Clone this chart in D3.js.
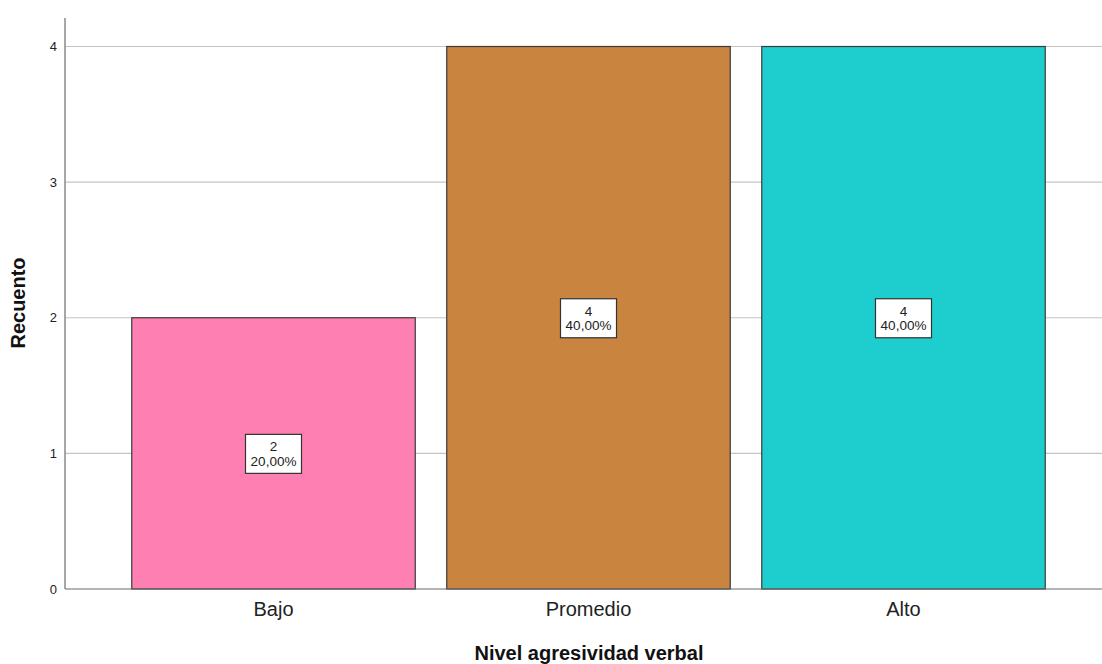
<!DOCTYPE html>
<html>
<head>
<meta charset="utf-8">
<script src="https://cdn.jsdelivr.net/npm/d3@7"></script>
<style>
  body { margin: 0; background: #fff; }
  svg { display: block; font-family: "Liberation Sans", Arial, sans-serif; }
</style>
</head>
<body>
<svg width="1102" height="664"></svg>
<script>
// data
var categories = ["Bajo", "Promedio", "Alto"];
var counts = [2, 4, 4];
var percents = ["20,00%", "40,00%", "40,00%"];
var colors = ["#fe80b3", "#c9843f", "#1ecdcd"];
var yTicks = [0, 1, 2, 3, 4];

var svg = d3.select("svg");
var plotLeft = 65, plotRight = 1102, plotTop = 18, plotBottom = 589;

var x = d3.scaleBand()
  .domain(categories)
  .range([116, 1061])
  .paddingInner(0.1)
  .paddingOuter(0.05);

var y = d3.scaleLinear()
  .domain([0, 4])
  .range([plotBottom, 46.5]);

/* gridlines */
svg.append("g")
  .selectAll("line")
  .data(yTicks.filter(function(d) { return d > 0; }))
  .enter()
  .append("line")
  .attr("x1", plotLeft)
  .attr("x2", plotRight)
  .attr("y1", function(d) { return y(d); })
  .attr("y2", function(d) { return y(d); })
  .attr("stroke", "#c4c4c4")
  .attr("stroke-width", 1.2);

/* bars */
svg.append("g")
  .selectAll("rect")
  .data(categories)
  .enter()
  .append("rect")
  .attr("x", function(d) { return x(d); })
  .attr("y", function(d, i) { return y(counts[i]); })
  .attr("width", x.bandwidth())
  .attr("height", function(d, i) { return y(0) - y(counts[i]); })
  .attr("fill", function(d, i) { return colors[i]; })
  .attr("stroke", "#3a3a3a")
  .attr("stroke-width", 1.2);

/* y axis */
var yAxis = svg.append("g")
  .attr("transform", "translate(" + plotLeft + ",0)")
  .call(d3.axisLeft(y).tickValues(yTicks).tickFormat(d3.format("d")).tickSize(0).tickPadding(8));
yAxis.select(".domain").remove();
yAxis.selectAll("text").attr("font-size", 13).attr("fill", "#222");
svg.append("line")
  .attr("x1", plotLeft).attr("x2", plotLeft)
  .attr("y1", plotTop).attr("y2", plotBottom)
  .attr("stroke", "#8a8a8a")
  .attr("stroke-width", 1.5);

/* x axis */
var xAxis = svg.append("g")
  .attr("transform", "translate(0," + plotBottom + ")")
  .call(d3.axisBottom(x).tickSize(0).tickPadding(13));
xAxis.select(".domain").remove();
xAxis.selectAll("text").attr("font-size", 20).attr("fill", "#222");
svg.append("line")
  .attr("x1", plotLeft).attr("x2", plotRight)
  .attr("y1", plotBottom).attr("y2", plotBottom)
  .attr("stroke", "#6a6a6a")
  .attr("stroke-width", 1.2);

/* value labels */
var labels = svg.append("g")
  .selectAll("g")
  .data(categories)
  .enter()
  .append("g")
  .attr("transform", function(d, i) {
    return "translate(" + (x(d) + x.bandwidth() / 2) + "," + y(counts[i] / 2) + ")";
  });
labels.append("rect")
  .attr("x", -28)
  .attr("y", -19)
  .attr("width", 56)
  .attr("height", 39)
  .attr("fill", "#fff")
  .attr("stroke", "#333")
  .attr("stroke-width", 1.2);
labels.append("text")
  .attr("text-anchor", "middle")
  .attr("y", -2)
  .attr("font-size", 13.5)
  .attr("fill", "#222")
  .text(function(d, i) { return counts[i]; });
labels.append("text")
  .attr("text-anchor", "middle")
  .attr("y", 12.5)
  .attr("font-size", 13.5)
  .attr("fill", "#222")
  .text(function(d, i) { return percents[i]; });

/* axis titles */
svg.append("text")
  .attr("x", 589)
  .attr("y", 660)
  .attr("text-anchor", "middle")
  .attr("font-size", 20)
  .attr("font-weight", "bold")
  .attr("fill", "#111")
  .text("Nivel agresividad verbal");
svg.append("text")
  .attr("transform", "translate(25,303) rotate(-90)")
  .attr("text-anchor", "middle")
  .attr("font-size", 20)
  .attr("font-weight", "bold")
  .attr("fill", "#111")
  .text("Recuento");
</script>
</body>
</html>
